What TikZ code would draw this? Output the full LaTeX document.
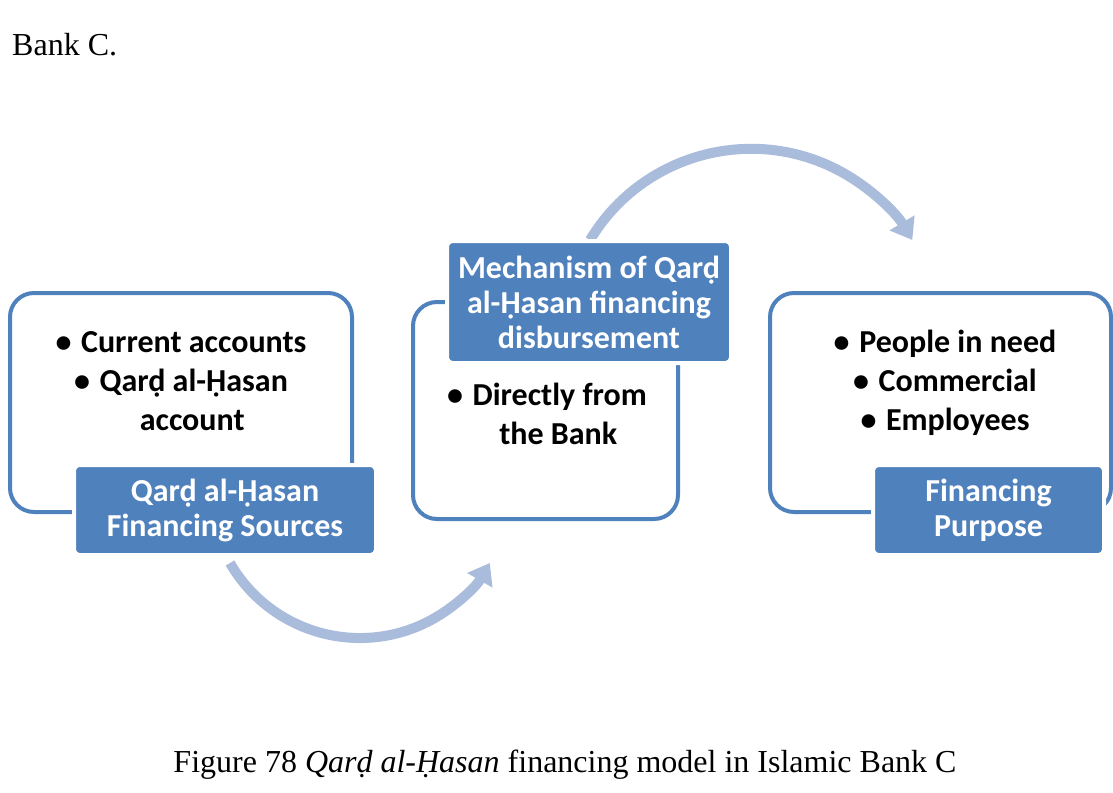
\documentclass[tikz,border=0pt]{standalone}
\usepackage{fontspec}
\setmainfont{Liberation Serif}
\newfontfamily\smartfont{Carlito}
\usetikzlibrary{arrows.meta,positioning}
\definecolor{accentblue}{RGB}{79,129,189}
\definecolor{arrowblue}{RGB}{170,188,219}
\newcommand{\itembullet}{•\hspace{0.3em}}

\begin{document}
\begin{tikzpicture}[x=1pt,y=-1pt,
    panel/.style={draw=accentblue, line width=4pt, rounded corners=24pt},
    tag/.style={fill=accentblue, draw=white, line width=4pt, rounded corners=6pt,
        text=white, align=center, inner sep=0pt,
        font=\smartfont\bfseries\fontsize{32}{35}\selectfont},
    items/.style={align=center, inner sep=0pt,
        font=\smartfont\bfseries\fontsize{32}{39}\selectfont},
    flowarc/.style={draw=arrowblue, line width=10pt,
        -{Triangle[length=20pt,width=28pt]}},
    bodytext/.style={inner sep=0pt, font=\fontsize{32}{35}\selectfont}]

    \useasboundingbox (0,0) rectangle (1113,792);

    % text around the figure
    \node[bodytext, anchor=west] (lead) at (12,45) {Bank C.};
    \node[bodytext] (caption) at (565,765)
        {Figure 78 \textit{Qarḍ al-Ḥasan} financing model in Islamic Bank C};

    % curved arrows between the stages
    \coordinate (srcout) at (230,563);
    \coordinate (mechout) at (590,240);
    \draw[flowarc] (srcout) arc[start angle=150, end angle=30, radius=150];
    \draw[flowarc] (mechout) arc[start angle=211, end angle=329, radius=188];

    % sources
    \node[panel, minimum width=342pt, minimum height=219pt] (srcpanel) at (181,402.5) {};
    \node[items] (srclist) at (181,381)
        {\itembullet Current accounts\\\itembullet Qarḍ al-Ḥasan\\\hspace*{0.7em}account};
    \node[tag, minimum width=302pt, minimum height=90pt] (srctag) at (225,510)
        {Qarḍ al-Ḥasan\\Financing Sources};

    % mechanism
    \node[panel, minimum width=265pt, minimum height=217pt] (mechpanel) at (545.5,410.5) {};
    \node[items] (mechlist) at (547,414) {\itembullet Directly from\\\hspace*{0.7em}the Bank};
    \node[tag, minimum width=284pt, minimum height=122pt] (mechtag) at (589,302)
        {Mechanism of Qarḍ\\al-Ḥasan financing\\disbursement};

    % purpose
    \node[panel, minimum width=341pt, minimum height=219pt] (usepanel) at (940.5,402.5) {};
    \node[items] (uselist) at (945,383)
        {\itembullet People in need\\\itembullet Commercial\\\itembullet Employees};
    \node[tag, minimum width=231pt, minimum height=90pt] (usetag) at (988.5,510)
        {Financing\\Purpose};
\end{tikzpicture}
\end{document}
